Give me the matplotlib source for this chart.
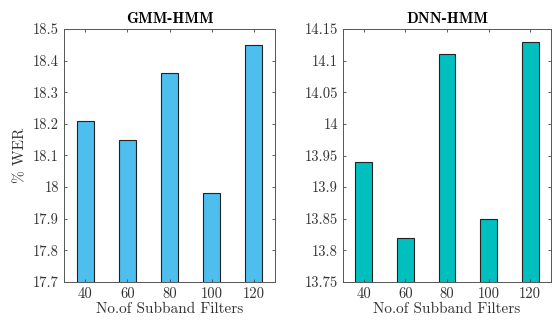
import matplotlib
matplotlib.use("Agg")
import matplotlib.pyplot as plt
import numpy as np

plt.rcParams['font.family'] = ['cmr10', 'DejaVu Serif']
plt.rcParams['axes.formatter.use_mathtext'] = True

filters = ['40', '60', '80', '100', '120']
gmm_wer = [18.21, 18.15, 18.36, 17.98, 18.45]
dnn_wer = [13.94, 13.82, 14.11, 13.85, 14.13]

gmm_ticks = [17.7, 17.8, 17.9, 18.0, 18.1, 18.2, 18.3, 18.4, 18.5]
gmm_labels = ['17.7', '17.8', '17.9', '18', '18.1', '18.2', '18.3', '18.4', '18.5']
dnn_ticks = [13.75, 13.8, 13.85, 13.9, 13.95, 14.0, 14.05, 14.1, 14.15]
dnn_labels = ['13.75', '13.8', '13.85', '13.9', '13.95', '14', '14.05', '14.1', '14.15']

fig = plt.figure(figsize=(5.52, 3.2), dpi=100)
ax1 = fig.add_axes([64/552, 1 - 282/320, 211/552, 253/320])
ax2 = fig.add_axes([343/552, 1 - 282/320, 208/552, 253/320])

x = np.arange(1, len(filters) + 1)


def style(ax, vals, color, ticks, labels, title):
    ax.bar(x, vals, width=0.4, color=color, edgecolor='#222222', linewidth=0.8)
    ax.set_xlim(0.5, 5.5)
    ax.set_ylim(ticks[0], ticks[-1])
    ax.set_yticks(ticks)
    ax.set_yticklabels(labels)
    ax.set_xticks(x)
    ax.set_xticklabels(filters)
    ax.tick_params(direction='in', top=True, right=True, labelsize=10.5,
                   length=2.5, width=0.6, color='#444444', labelcolor='#333333')
    for s in ax.spines.values():
        s.set_color('#555555')
        s.set_linewidth(0.7)
    ax.set_xlabel('No.of Subband Filters', fontsize=11, color='#333333', labelpad=1)
    ax.set_title(title, fontsize=11, family='cmb10', pad=4)


style(ax1, gmm_wer, '#4DBEEE', gmm_ticks, gmm_labels, 'GMM-HMM')
style(ax2, dnn_wer, '#00BFBF', dnn_ticks, dnn_labels, 'DNN-HMM')
ax1.set_ylabel('% WER', fontsize=11, color='#333333', labelpad=4)

fig.savefig('out.png', dpi=100)
